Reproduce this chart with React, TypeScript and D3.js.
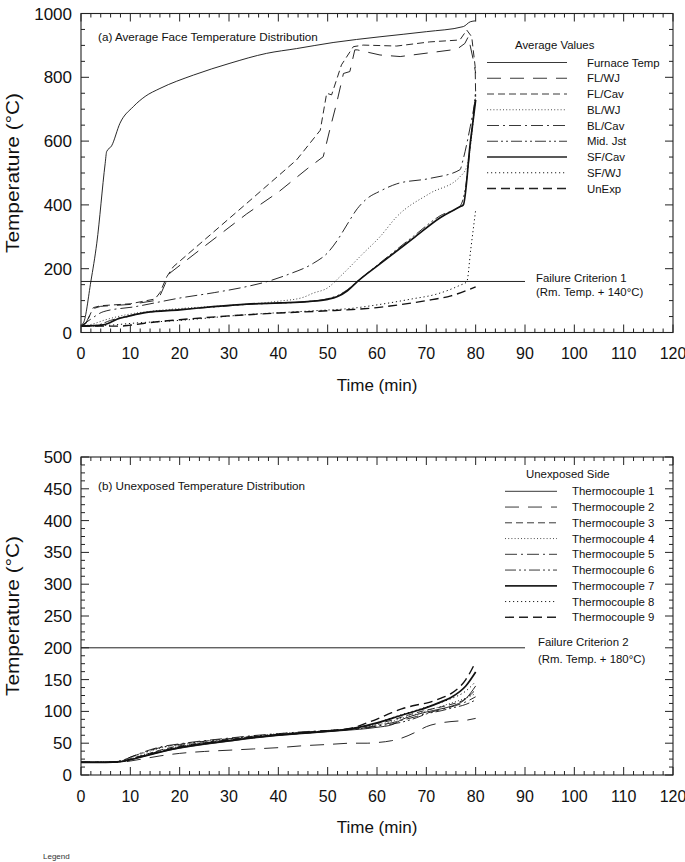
import React from 'react';
import * as d3 from 'd3';

const FONT = "'Liberation Sans', Arial, Helvetica, sans-serif";

// ---------- (a) average face temperatures: [time (min), temperature (°C)]
const FURNACE = [[0,23],[0.5,30],[2,160],[3.2,280],[4.9,530],[5.2,567],[6.2,585],[7.9,656],[10.6,708],[13,740],[16,765],[22.8,807],[30.2,844],[37.6,875],[43.7,890],[51.1,909],[60.6,927],[70,943],[77.5,959],[78.9,974],[80,977]];
const FL_WJ = [[0,20],[1,30],[2.5,75],[4,82],[10,88],[15,100],[16,115],[17,150],[18,186],[25,270],[33.6,372],[40,440],[46,515],[49.1,551],[50.5,640],[51.8,718],[53.2,812],[54.5,818],[55.5,886],[56,886],[60.6,870],[64.7,865],[70.7,877],[76.2,888],[77.8,906],[78.5,927],[79.5,856],[80,813]];
const FL_CAV = [[0,20],[1,28],[2.5,78],[4,84],[10,90],[15,105],[16,125],[17.4,175],[18.7,206],[33.6,405],[43.7,541],[48.5,634],[49.8,750],[50.8,745],[52.8,839],[55.2,896],[57.2,901],[64,898],[70.7,911],[76.8,917],[78.2,948],[79.2,927],[79.9,833],[80,739]];
const BL_WJ = [[0,20],[2,25],[5,40],[10,58],[15,68],[20,75],[30,85],[40,98],[45,110],[47,123],[50,140],[52.5,175],[57.2,248],[60.6,300],[64,363],[70.7,436],[76.8,488],[78.2,520],[80,739]];
const BL_CAV = [[0,20],[2,42],[4.5,65],[11,81],[20,108],[27,125],[33.6,144],[37.6,159],[42,182],[47.1,217],[50,250],[52,290],[54,340],[56,388],[58,420],[60.6,443],[64,466],[70.7,483],[76.8,510],[77.5,545],[78.9,645],[80,735]];
const MID_JST = [[0,20],[3,22],[6,38],[9,50],[13,62],[20,72],[27,80],[33.6,88],[40,92],[46,97],[50,106],[52,116],[54,134],[56,160],[60.6,218],[67.4,302],[72.8,366],[76.8,396],[78,460],[79,600],[80,760]];
const SF_CAV = [[0,20],[4.5,24],[7.9,45],[9.3,50],[13.3,63],[20,71],[26.8,81],[33.6,89],[40.3,93],[46,97],[50,104],[52,113],[54,131],[55.9,158],[60.6,215],[67.4,296],[72.8,360],[76.8,394],[77.5,400],[78.9,593],[80,729]];
const SF_WJ = [[0,20],[5,22],[11.3,30],[18,36],[20,38],[33.6,56],[47,68],[55,76],[60.6,88],[67,105],[72,120],[76.8,148],[78.2,159],[79,260],[80,384]];
const UNEXP = [[0,20],[8,20],[10,23],[15,33],[20,40],[30,52],[40,61],[50,68],[55,72],[60,78],[65,88],[70,100],[75,115],[80,143]];

// ---------- (b) unexposed side thermocouples, sampled at TIME_B
const TIME_B = [0,5,8,10,13,16,20,25,30,35,40,45,50,55,58,60,63,65,68,70,73,75,78,80];
const TC1 = [20,20,21,24,30,36,42,48,53,58,62,65,68,71,73,75,79,87,95,99,104,108,120,140];
const TC2 = [20,20,20,22,26,30,34,37,39,41,43,46,48,50,50,51,54,58,68,76,82,84,86,89];
const TC3 = [20,20,21,25,32,39,46,51,56,60,64,67,70,73,77,81,86,91,98,102,107,111,120,134];
const TC4 = [20,20,22,27,35,42,48,53,57,61,65,67,70,73,76,79,84,89,96,101,108,113,121,128];
const TC5 = [20,20,22,28,37,44,49,54,58,62,65,68,70,72,75,78,82,86,92,97,103,107,115,123];
const TC6 = [20,20,22,28,36,43,48,53,57,61,64,67,69,72,74,77,80,83,90,96,101,105,111,118];
const TC7 = [20,20,21,24,30,36,43,49,54,59,63,66,69,73,78,82,89,94,101,106,115,122,140,162];
const TC8 = [20,20,21,25,32,38,45,50,55,59,63,66,69,73,78,82,90,95,102,107,114,120,132,147];
const TC9 = [20,20,21,25,31,37,44,50,55,59,63,66,69,74,82,88,98,104,110,113,121,128,150,178];

const X_TICKS = d3.range(0, 121, 10);
const Y_TICKS_A = d3.range(0, 1001, 200);
const Y_TICKS_B = d3.range(0, 501, 50);
const FAILURE_A = 160;
const FAILURE_B = 200;

type Style = { dash?: string; w: number };
const S: Record<string, Style> = {
  solid: { w: 0.9 },
  longDash: { dash: '14 9', w: 0.9 },
  dash: { dash: '7 4', w: 0.9 },
  fineDot: { dash: '1 2.2', w: 0.8 },
  dashDot: { dash: '12 4 2 4', w: 0.9 },
  dashDotDot: { dash: '11 3 2 3 2 3', w: 0.9 },
  thick: { w: 1.7 },
  dot: { dash: '1.2 2.8', w: 1.0 },
  boldDash: { dash: '9 5', w: 1.4 },
};

const SERIES_A = [
  { name: 'Furnace Temp', data: FURNACE, s: S.solid, curve: d3.curveMonotoneX },
  { name: 'FL/WJ', data: FL_WJ, s: S.longDash, curve: d3.curveLinear },
  { name: 'FL/Cav', data: FL_CAV, s: S.dash, curve: d3.curveLinear },
  { name: 'BL/WJ', data: BL_WJ, s: S.fineDot, curve: d3.curveMonotoneX },
  { name: 'BL/Cav', data: BL_CAV, s: S.dashDot, curve: d3.curveMonotoneX },
  { name: 'Mid. Jst', data: MID_JST, s: S.dashDotDot, curve: d3.curveMonotoneX },
  { name: 'SF/Cav', data: SF_CAV, s: S.thick, curve: d3.curveMonotoneX },
  { name: 'SF/WJ', data: SF_WJ, s: S.dot, curve: d3.curveMonotoneX },
  { name: 'UnExp', data: UNEXP, s: S.boldDash, curve: d3.curveMonotoneX },
];

const SERIES_B = [
  { name: 'Thermocouple 1', vals: TC1, s: S.solid },
  { name: 'Thermocouple 2', vals: TC2, s: S.longDash },
  { name: 'Thermocouple 3', vals: TC3, s: S.dash },
  { name: 'Thermocouple 4', vals: TC4, s: S.fineDot },
  { name: 'Thermocouple 5', vals: TC5, s: S.dashDot },
  { name: 'Thermocouple 6', vals: TC6, s: S.dashDotDot },
  { name: 'Thermocouple 7', vals: TC7, s: S.thick },
  { name: 'Thermocouple 8', vals: TC8, s: S.dot },
  { name: 'Thermocouple 9', vals: TC9, s: S.boldDash },
];

const x = d3.scaleLinear().domain([0, 120]).range([81, 673]);
const yA = d3.scaleLinear().domain([0, 1000]).range([332.5, 13.5]);
const yB = d3.scaleLinear().domain([0, 500]).range([775, 457]);

function Axes({ y, ticks, minorPer }: { y: d3.ScaleLinear<number, number>; ticks: number[]; minorPer: number }) {
  const [yb, yt] = y.range();
  const [xl, xr] = x.range();
  const xMinor = d3.range(0, 121, 2).filter((v) => v % 10 !== 0);
  const step = ticks[1] - ticks[0];
  const yMinor: number[] = [];
  ticks.slice(0, -1).forEach((t) => {
    for (let i = 1; i < minorPer; i++) yMinor.push(t + (step * i) / minorPer);
  });
  const st = { stroke: '#222', strokeWidth: 1 };
  return (
    <g>
      {X_TICKS.map((v) => (
        <g key={'xm' + v}>
          <line x1={x(v)} x2={x(v)} y1={yb} y2={yb - 8} {...st} />
          <line x1={x(v)} x2={x(v)} y1={yt} y2={yt + 8} {...st} />
          <text x={x(v)} y={yb + 26.5} textAnchor="middle" fontSize={16} fontFamily={FONT} fill="#111">{v}</text>
        </g>
      ))}
      {xMinor.map((v) => (
        <g key={'xn' + v}>
          <line x1={x(v)} x2={x(v)} y1={yb} y2={yb - 4} {...st} />
          <line x1={x(v)} x2={x(v)} y1={yt} y2={yt + 4} {...st} />
        </g>
      ))}
      {ticks.map((v) => (
        <g key={'ym' + v}>
          <line x1={xl} x2={xl + 8} y1={y(v)} y2={y(v)} {...st} />
          <line x1={xr} x2={xr - 8} y1={y(v)} y2={y(v)} {...st} />
          <text x={72} y={y(v) + 6} textAnchor="end" fontSize={17} fontFamily={FONT} fill="#111">{v}</text>
        </g>
      ))}
      {yMinor.map((v) => (
        <g key={'yn' + v}>
          <line x1={xl} x2={xl + 4} y1={y(v)} y2={y(v)} {...st} />
          <line x1={xr} x2={xr - 4} y1={y(v)} y2={y(v)} {...st} />
        </g>
      ))}
      <rect x={xl} y={yt} width={xr - xl} height={yb - yt} fill="none" stroke="#222" strokeWidth={1.1} />
      <text x={(xl + xr) / 2} y={yb + 58} textAnchor="middle" fontSize={17} fontFamily={FONT} fill="#111">Time (min)</text>
      <text transform={`translate(19,${(yb + yt) / 2}) rotate(-90)`} textAnchor="middle" fontSize={18}
        textLength={160} lengthAdjust="spacingAndGlyphs" fontFamily={FONT} fill="#111">Temperature (°C)</text>
    </g>
  );
}

function Legend({ title, tx, ty, lx1, lx2, textX, rows }: any) {
  return (
    <g fontFamily={FONT} fontSize={11.4} fill="#111">
      <text x={tx} y={ty}>{title}</text>
      {rows.map((r: any, i: number) => {
        const ry = ty + 13.3 + i * 15.75;
        return (
          <g key={r.name}>
            <line x1={lx1} x2={lx2} y1={ry} y2={ry} stroke="#222" strokeWidth={r.s.w} strokeDasharray={r.s.dash} />
            <text x={textX} y={ry + 4}>{r.name}</text>
          </g>
        );
      })}
    </g>
  );
}

export default function App() {
  const lineA = (curve: d3.CurveFactory) =>
    d3.line<number[]>().x((d) => x(d[0])).y((d) => yA(d[1])).curve(curve);
  const lineB = d3.line<[number, number]>().x((d) => x(d[0])).y((d) => yB(d[1])).curve(d3.curveMonotoneX);

  return (
    <svg width={685} height={862} style={{ position: 'absolute', left: 0, top: 0, background: '#fff' }}>
      <rect width={685} height={862} fill="#fff" />
      {/* (a) */}
      <g>
        <line x1={x(0)} x2={525} y1={yA(FAILURE_A)} y2={yA(FAILURE_A)} stroke="#222" strokeWidth={1} />
        {SERIES_A.map((s) => (
          <path key={s.name} d={lineA(s.curve)(s.data) || ''} fill="none" stroke="#111"
            strokeWidth={s.s.w} strokeDasharray={s.s.dash} />
        ))}
        <Axes y={yA} ticks={Y_TICKS_A} minorPer={4} />
        <text x={98} y={40.7} fontFamily={FONT} fontSize={11.7} fill="#111">(a) Average Face Temperature Distribution</text>
        <Legend title="Average Values" tx={515} ty={49.2} lx1={487} lx2={567} textX={587} rows={SERIES_A} />
        <g fontFamily={FONT} fontSize={11.4} fill="#111">
          <text x={536} y={281.5}>Failure Criterion 1</text>
          <text x={536} y={296}>(Rm. Temp. + 140°C)</text>
        </g>
      </g>
      {/* (b) */}
      <g>
        <line x1={x(0)} x2={525} y1={yB(FAILURE_B)} y2={yB(FAILURE_B)} stroke="#222" strokeWidth={1} />
        {SERIES_B.map((s) => (
          <path key={s.name} d={lineB(TIME_B.map((t, i) => [t, s.vals[i]] as [number, number])) || ''}
            fill="none" stroke="#111" strokeWidth={s.s.w} strokeDasharray={s.s.dash} />
        ))}
        <Axes y={yB} ticks={Y_TICKS_B} minorPer={4} />
        <text x={98} y={490} fontFamily={FONT} fontSize={11.7} fill="#111">(b) Unexposed Temperature Distribution</text>
        <Legend title="Unexposed Side" tx={526} ty={478} lx1={505} lx2={557} textX={572} rows={SERIES_B} />
        <g fontFamily={FONT} fontSize={11.4} fill="#111">
          <text x={538} y={646}>Failure Criterion 2</text>
          <text x={538} y={662.5}>(Rm. Temp. + 180°C)</text>
        </g>
      </g>
      <text x={43} y={859} fontFamily={FONT} fontSize={8} fill="#333">Legend</text>
    </svg>
  );
}
